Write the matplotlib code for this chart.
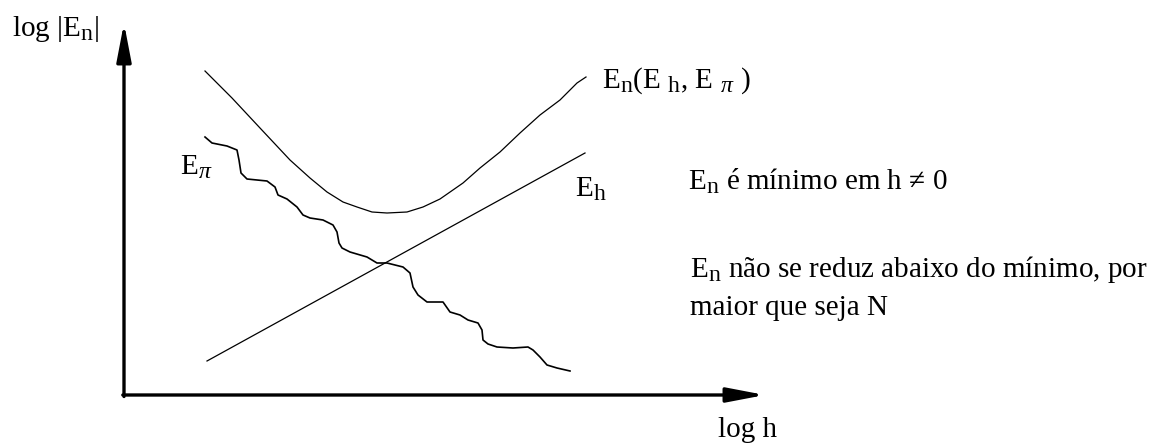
import matplotlib.pyplot as plt
import matplotlib._mathtext as mt

plt.rcParams['font.family'] = ['Liberation Serif', 'DejaVu Serif']
plt.rcParams['mathtext.fontset'] = 'custom'
plt.rcParams['mathtext.rm'] = 'Liberation Serif'
plt.rcParams['mathtext.it'] = 'Liberation Serif:italic'
# subscripts in the sketch are only a little smaller than the text
mt.SHRINK_FACTOR = 0.82

# curves (pixel units, y grows downward)
en_x = [205, 232, 260, 290, 310, 327, 343, 357, 372, 387, 407, 423, 440, 463, 480, 500, 520, 540, 560, 577, 586]
en_y = [71, 98, 128, 160, 178, 192, 202, 207, 212, 213, 212, 207, 199, 183, 168, 152, 133, 115, 100, 83, 77]

eh_x = [207, 585]
eh_y = [361, 153]

epi_x = [205, 212, 227, 237, 239, 241, 247, 267, 275, 278, 287, 297, 303, 310, 323, 333, 337, 339, 342, 350,
         367, 377, 387, 403, 410, 413, 418, 427, 443, 450, 460, 468, 478, 482, 483, 488, 497, 513, 528, 533,
         540, 547, 557, 570]
epi_y = [137, 143, 146, 150, 160, 173, 179, 181, 187, 195, 199, 207, 215, 218, 220, 225, 232, 243, 248, 252,
         257, 263, 263, 267, 273, 287, 295, 302, 302, 312, 315, 320, 323, 330, 340, 344, 347, 348, 347, 350,
         357, 365, 368, 371]

fig = plt.figure(figsize=(11.71, 4.47), dpi=100)
ax = fig.add_axes([0, 0, 1, 1])
ax.set_xlim(0, 1171)
ax.set_ylim(447, 0)
ax.axis('off')

# axes arrows
arrow = dict(arrowstyle='-|>,head_length=1.15,head_width=0.22', lw=2.4,
             color='black', mutation_scale=20, shrinkA=0, shrinkB=0)
ax.annotate('', xy=(124, 23), xytext=(124, 396.5), arrowprops=arrow)
ax.annotate('', xy=(765, 395), xytext=(122.8, 395), arrowprops=arrow)

ax.plot(en_x, en_y, color='black', lw=0.9)
ax.plot(eh_x, eh_y, color='black', lw=0.9)
ax.plot(epi_x, epi_y, color='black', lw=1.2)

fs = 21
ax.text(12, 36, r'log |$\mathrm{E_n}$|', fontsize=fs, va='baseline')
ax.text(718, 437, 'log h', fontsize=fs, va='baseline')
ax.text(180, 175, r'$\mathrm{E}_\pi$', fontsize=fs, va='baseline')
ax.text(575, 197, r'$\mathrm{E_h}$', fontsize=fs, va='baseline')
ax.text(602, 88, r'$\mathrm{E_n}$(E $_\mathrm{h}$, E $_\pi$ )', fontsize=fs, va='baseline')
ax.text(688, 190, r'$\mathrm{E_n}$ é mínimo em h ≠ 0', fontsize=fs, va='baseline')
ax.text(690, 277, r'$\mathrm{E_n}$ não se reduz abaixo do mínimo, por', fontsize=fs, va='baseline')
ax.text(690, 315, 'maior que seja N', fontsize=fs, va='baseline')

fig.savefig('out.png', dpi=100, facecolor='white')
